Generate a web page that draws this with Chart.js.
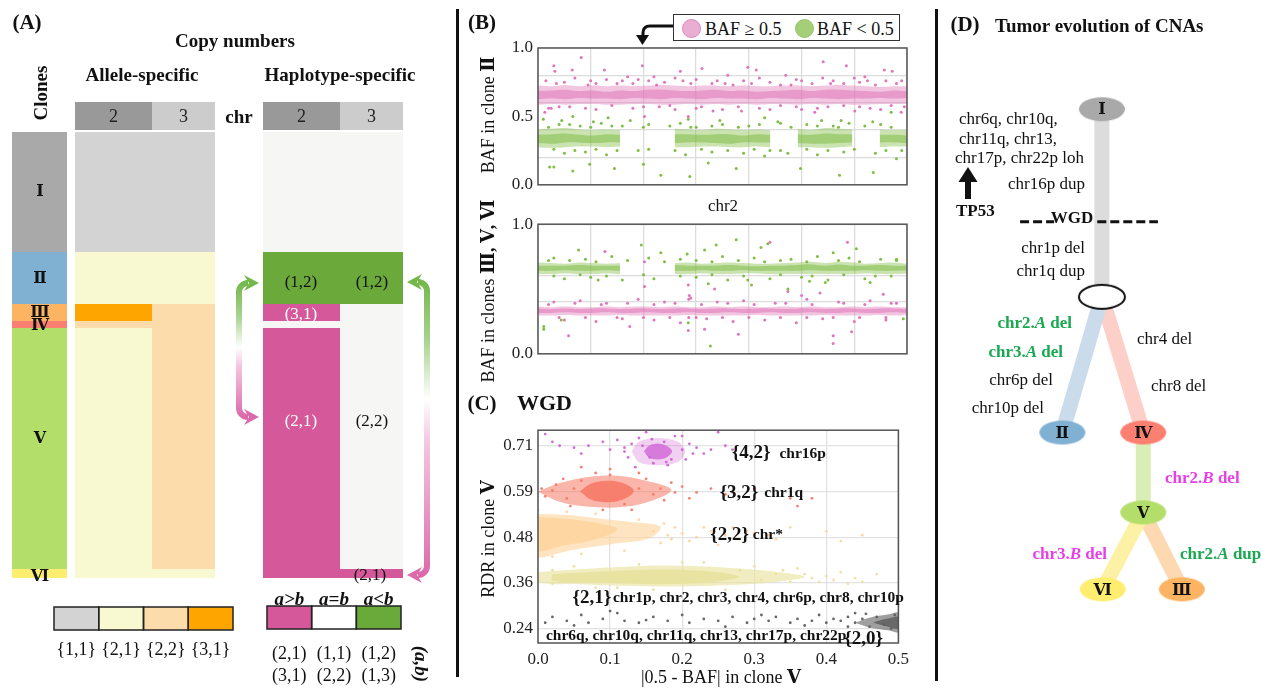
<!DOCTYPE html>
<html><head><meta charset="utf-8"><title>Tumor CNA figure</title>
<script src="https://cdn.jsdelivr.net/npm/chart.js@4.4.1/dist/chart.umd.min.js"></script>
<style>
html,body{margin:0;padding:0;background:#fff}
#fig{position:relative;width:1261px;height:688px;overflow:hidden;font-family:'Liberation Serif','DejaVu Serif',serif;color:#111}
#fig canvas{position:absolute}
.t{position:absolute;white-space:nowrap;line-height:1}
.sep{position:absolute;background:#111;width:3px}
.lc{position:absolute;top:4px;width:17px;height:17px;border-radius:50%}
</style></head><body><div id="fig">
<div class="sep" style="left:456px;top:9px;height:668px"></div>
<div class="sep" style="left:935px;top:9px;height:672px"></div>
<canvas id="cA" width="455" height="688" style="left:0;top:0"></canvas>
<canvas id="cB1" width="460" height="200" style="left:455px;top:0"></canvas>
<canvas id="cB2" width="460" height="160" style="left:455px;top:209px"></canvas>
<canvas id="cC" width="460" height="260" style="left:455px;top:415px"></canvas>
<canvas id="cD" width="321" height="688" style="left:940px;top:0"></canvas>
<div id="legB" style="position:absolute;left:673px;top:14px;width:225px;height:25px;border:1.5px solid #333;background:#fff">
 <div class="lc" style="left:8px;background:rgba(222,120,182,0.6);border:1px solid #dc86b8"></div>
 <div class="t" style="left:31px;top:5px;font-size:18px">BAF ≥ 0.5</div>
 <div class="lc" style="left:121px;background:#a4cf78;border:1px solid #93c463"></div>
 <div class="t" style="left:143px;top:5px;font-size:18px">BAF &lt; 0.5</div>
</div>
</div>
<script>
// ======================= DATA =======================
// Panel A : clones, cells and copy-number states
const cloneNames = ['Ⅰ','Ⅱ','Ⅲ','Ⅳ','Ⅴ','Ⅵ'];
const cloneCellCounts = [120, 52, 17, 7, 241, 9];
const chromosomes = ['2', '3'];
const chromosomeLengthsMb = [242, 198];
const alleleSpecificCN = [['{1,1}','{1,1}'],['{2,1}','{2,1}'],['{3,1}','{2,2}'],['{2,2}','{2,2}'],['{2,1}','{2,2}'],['{2,1}','{2,1}']];
const haplotypeSpecificCN = [['(1,1)','(1,1)'],['(1,2)','(1,2)'],['(3,1)','(2,2)'],['(2,2)','(2,2)'],['(2,1)','(2,2)'],['(2,1)','(2,1)']];
const alleleLegendStates = ['{1,1}','{2,1}','{2,2}','{3,1}'];
const haplotypeLegendClasses = ['a>b','a=b','a<b'];
const haplotypeLegendPairs1 = ['(2,1)','(1,1)','(1,2)'];
const haplotypeLegendPairs2 = ['(3,1)','(2,2)','(1,3)'];

// Panel B : BAF along chr2 (28 samples along 0..7), dense band range + core range + scattered points
const bafGenomeSpan = 7;
const bafGridValues = [0, 0.2, 0.4, 0.5, 0.6, 0.8, 1.0];
const bafTickLabels = ['0.0','','','0.5','','','1.0'];
const clone2HighLo = [.585,.59,.585,.59,.59,.585,.585,.59,.59,.585,.585,.59,.585,.59,.585,.59,.585,.59,.59,.585,.59,.585,.59,.585,.585,.59,.59,.59];
const clone2HighHi = [.725,.72,.73,.72,.725,.72,.725,.72,.725,.73,.725,.72,.725,.725,.72,.725,.72,.72,.725,.725,.72,.725,.73,.725,.72,.715,.72,.72];
const clone2HighCoreLo = [.625,.63,.625,.635,.63,.63,.625,.635,.63,.625,.635,.63,.625,.635,.63,.63,.625,.635,.63,.625,.635,.63,.625,.63,.63,.635,.63,.635];
const clone2HighCoreHi = [.685,.69,.695,.685,.69,.68,.69,.685,.695,.695,.69,.685,.69,.695,.685,.69,.68,.685,.69,.695,.685,.695,.695,.69,.685,.68,.69,.685];
const clone2LowLo = [.275,.27,.275,.28,.28,.275,.28,null,.28,null,.275,.275,.28,.28,.275,.275,.28,.275,null,.275,.275,.27,.275,.28,null,.275,.28,.28];
const clone2LowHi = [.405,.41,.415,.405,.40,.405,.40,null,.40,null,.41,.405,.40,.41,.405,.40,.405,.40,null,.41,.40,.415,.41,.405,null,.405,.40,.40];
const clone2LowCoreLo = [.305,.30,.31,.31,.305,.31,.31,null,.31,null,.305,.31,.31,.305,.30,.31,.31,.31,null,.305,.30,.30,.305,.31,null,.31,.31,.305];
const clone2LowCoreHi = [.365,.37,.375,.365,.36,.37,.365,null,.36,null,.37,.37,.365,.37,.37,.36,.37,.365,null,.37,.365,.375,.37,.37,null,.365,.365,.36];
const clone2HighDots = [[0.3,0.87],[0.32,0.83],[0.82,0.93],[0.65,0.84],[1.26,0.84],[1.98,0.87],[2.2,0.79],[2.7,0.83],[3.11,0.85],[3.98,0.86],[4.14,0.84],[5.41,0.9],[5.85,0.87],[6.57,0.84],[6.72,0.83],[0.13,0.53],[0.25,0.56],[2.02,0.5],[2.85,0.5],[3.32,0.54],[3.86,0.54],[5.25,0.53],[6.01,0.54],[6.89,0.53],[0.5,0.75],[1.0,0.76],[1.5,0.74],[1.9,0.77],[2.4,0.75],[2.9,0.74],[3.4,0.76],[3.7,0.73],[4.4,0.75],[4.9,0.77],[5.2,0.74],[5.6,0.76],[6.1,0.75],[6.4,0.73],[6.9,0.76],[0.4,0.57],[0.9,0.56],[1.4,0.58],[2.3,0.57],[2.6,0.55],[3.1,0.57],[4.2,0.56],[4.6,0.58],[5.0,0.55],[5.5,0.57],[6.3,0.56],[6.7,0.58],[1.7,0.79],[3.6,0.8],[4.7,0.8],[6.2,0.79],[0.15,0.76],[0.7,0.78],[1.1,0.74],[1.3,0.77],[1.8,0.74],[2.1,0.76],[2.6,0.78],[3.0,0.77],[3.3,0.74],[3.9,0.76],[4.2,0.78],[4.6,0.73],[5.0,0.76],[5.4,0.78],[5.8,0.74],[6.0,0.78],[6.6,0.76],[0.2,0.56],[0.6,0.57],[1.1,0.55],[1.8,0.56],[2.0,0.57],[2.5,0.58],[3.0,0.56],[3.5,0.55],[3.8,0.57],[4.4,0.55],[4.9,0.57],[5.3,0.56],[5.8,0.58],[6.1,0.57],[6.5,0.55],[6.95,0.57],[0.35,0.74],[0.95,0.73],[1.6,0.76],[2.25,0.73],[2.75,0.76],[3.55,0.74],[4.05,0.74],[4.8,0.73],[5.55,0.74],[6.25,0.76],[6.8,0.74]];
const clone2LowDots = [[0.1,0.48],[0.66,0.5],[1.33,0.49],[2.85,0.48],[4.3,0.49],[5.38,0.47],[6.7,0.53],[0.22,0.13],[0.3,0.13],[0.66,0.1],[0.98,0.15],[1.45,0.12],[2.0,0.15],[2.33,0.07],[2.88,0.06],[3.23,0.16],[3.76,0.12],[4.98,0.12],[5.72,0.07],[6.36,0.09],[6.8,0.19],[4.3,0.21],[4.74,0.23],[0.4,0.44],[0.8,0.43],[1.2,0.45],[1.6,0.43],[2.1,0.44],[2.7,0.45],[3.0,0.42],[3.5,0.44],[4.0,0.43],[4.6,0.45],[5.1,0.44],[5.6,0.43],[5.9,0.45],[6.5,0.44],[0.5,0.23],[0.9,0.24],[1.3,0.22],[1.9,0.25],[2.8,0.22],[3.3,0.24],[3.9,0.23],[4.4,0.25],[5.3,0.22],[5.8,0.24],[6.4,0.23],[6.9,0.25],[0.2,0.42],[0.6,0.44],[1.0,0.42],[1.4,0.43],[2.0,0.42],[2.5,0.43],[2.9,0.42],[3.3,0.43],[3.8,0.42],[4.2,0.44],[4.8,0.42],[5.3,0.43],[5.7,0.42],[6.2,0.43],[6.7,0.42],[0.3,0.26],[0.7,0.25],[1.1,0.26],[1.5,0.25],[2.1,0.26],[2.6,0.25],[3.1,0.26],[3.6,0.25],[4.1,0.26],[4.6,0.25],[5.1,0.26],[5.5,0.25],[6.0,0.26],[6.6,0.25],[0.45,0.47],[1.05,0.46],[1.75,0.47],[3.45,0.47],[4.55,0.46],[5.75,0.47],[6.35,0.46]];
const clones356HighLo = [.615,.615,.62,.615,.615,.62,.615,null,.615,null,.615,.615,.62,.615,.615,.62,.62,.615,.615,.615,.615,.615,.615,.615,.62,.615,.615,.62];
const clones356HighHi = [.705,.70,.695,.705,.70,.695,.70,null,.705,null,.70,.705,.695,.70,.705,.70,.695,.695,.70,.705,.71,.70,.71,.705,.695,.70,.705,.695];
const clones356HighCoreLo = [.64,.64,.645,.64,.64,.645,.64,null,.64,null,.64,.64,.645,.64,.64,.645,.64,.64,.64,.64,.645,.64,.64,.64,.645,.64,.64,.645];
const clones356HighCoreHi = [.68,.68,.68,.685,.68,.68,.68,null,.68,null,.685,.68,.68,.68,.685,.68,.675,.68,.68,.685,.69,.68,.69,.68,.68,.685,.68,.68];
const clones356LowLo = [.295,.295,.30,.295,.295,.295,.30,.295,.295,.295,.295,.30,.295,.295,.295,.295,.30,.295,.295,.295,.295,.30,.295,.295,.295,.30,.295,.30];
const clones356LowHi = [.365,.36,.365,.36,.36,.365,.36,.365,.365,.36,.365,.36,.36,.365,.36,.365,.36,.36,.365,.36,.365,.36,.36,.365,.36,.365,.36,.36];
const clones356LowCoreLo = [.315,.315,.32,.315,.315,.32,.315,.315,.32,.315,.315,.32,.315,.315,.32,.315,.315,.32,.315,.315,.32,.315,.315,.32,.315,.315,.32,.315];
const clones356LowCoreHi = [.35,.345,.35,.345,.35,.35,.345,.35,.35,.345,.35,.35,.345,.35,.35,.345,.35,.35,.345,.35,.35,.345,.35,.35,.345,.35,.35,.345];
const clones356HighDots = [[0.77,0.8],[1.96,0.84],[2.33,0.78],[2.83,0.77],[3.16,0.8],[3.38,0.84],[3.76,0.88],[4.23,0.82],[4.36,0.85],[6.04,0.81],[5.6,0.78],[6.8,0.73],[0.11,0.21],[0.11,0.19],[3.27,0.06],[2.85,0.24],[0.44,0.26],[3.98,0.57],[4.74,0.5],[6.93,0.27],[1.14,0.57],[3.23,0.54],[0.3,0.74],[0.9,0.73],[1.4,0.75],[2.1,0.74],[2.7,0.73],[3.5,0.75],[4.1,0.74],[4.8,0.73],[5.3,0.75],[5.9,0.74],[6.5,0.73],[0.5,0.58],[1.0,0.59],[1.6,0.57],[2.2,0.58],[3.0,0.59],[3.6,0.57],[4.4,0.58],[5.0,0.59],[5.5,0.57],[6.2,0.58],[6.7,0.6],[0.2,0.72],[0.6,0.72],[1.1,0.71],[1.7,0.72],[2.4,0.71],[3.0,0.72],[3.3,0.71],[3.8,0.72],[4.3,0.71],[4.6,0.72],[5.1,0.71],[5.7,0.72],[6.1,0.71],[6.8,0.72],[0.3,0.6],[0.8,0.61],[1.3,0.6],[2.0,0.61],[2.7,0.6],[3.3,0.61],[3.9,0.6],[4.6,0.61],[5.2,0.6],[5.8,0.61],[6.4,0.6],[5.15,0.56],[5.45,0.55],[6.3,0.55],[4.05,0.53]];
const clones356LowDots = [[2.02,0.71],[4.4,0.86],[5.87,0.86],[1.27,0.79],[2.02,0.52],[3.35,0.5],[4.74,0.48],[2.85,0.53],[0.58,0.14],[3.8,0.15],[5.6,0.14],[5.6,0.08],[5.95,0.17],[2.85,0.18],[3.16,0.19],[1.74,0.21],[2.86,0.28],[2.86,0.42],[2.87,0.45],[0.3,0.4],[0.8,0.41],[1.3,0.39],[1.9,0.42],[2.4,0.4],[2.9,0.43],[3.4,0.4],[3.9,0.41],[4.5,0.39],[5.1,0.42],[5.7,0.4],[6.3,0.41],[6.8,0.39],[0.5,0.26],[1.1,0.25],[1.6,0.27],[2.2,0.26],[2.7,0.24],[3.2,0.27],[3.7,0.25],[4.3,0.26],[4.9,0.24],[5.4,0.27],[6.0,0.25],[6.6,0.26],[0.2,0.38],[0.7,0.39],[1.2,0.38],[1.7,0.39],[2.2,0.38],[2.6,0.39],[3.1,0.38],[3.6,0.39],[4.1,0.38],[4.7,0.39],[5.2,0.38],[5.8,0.39],[6.2,0.38],[6.7,0.39],[0.4,0.28],[0.9,0.28],[1.5,0.28],[2.0,0.28],[2.5,0.28],[3.0,0.28],[3.5,0.28],[4.0,0.28],[4.6,0.28],[5.1,0.28],[5.6,0.28],[6.1,0.28],[6.6,0.28],[5.0,0.45],[5.35,0.47],[6.55,0.46]];

// Panel C : RDR vs |0.5-BAF| clusters in clone V
const rdrTickValues = [0.24, 0.3575, 0.475, 0.5925, 0.71];
const rdrTickLabels = ['0.24','0.36','0.48','0.59','0.71'];
const clusterStates = ['{4,2}','{3,2}','{2,2}','{2,1}','{2,0}'];
const clusterChromosomes = ['chr16p','chr1q','chr*','chr1p, chr2, chr3, chr4, chr6p, chr8, chr10p','chr6q, chr10q, chr11q, chr13, chr17p, chr22p'];
const clusterOutlines = [
 [[0.13,0.695],[0.14,0.72],[0.166,0.73],[0.194,0.72],[0.204,0.695],[0.194,0.668],[0.166,0.66],[0.14,0.668],[0.13,0.695]],
 [[0.0,0.592],[0.03,0.614],[0.07,0.63],[0.11,0.633],[0.15,0.62],[0.185,0.597],[0.16,0.57],[0.12,0.553],[0.07,0.553],[0.03,0.566],[0.0,0.592]],
 [[-0.01,0.535],[0.04,0.532],[0.09,0.522],[0.13,0.514],[0.17,0.502],[0.155,0.472],[0.1,0.457],[0.05,0.443],[-0.01,0.428],[-0.01,0.535]],
 [[0.0,0.385],[0.06,0.393],[0.12,0.399],[0.18,0.402],[0.25,0.398],[0.32,0.388],[0.37,0.373],[0.32,0.358],[0.25,0.351],[0.18,0.348],[0.12,0.35],[0.06,0.354],[0.0,0.36],[0.0,0.385]],
 [[0.44,0.255],[0.46,0.268],[0.485,0.276],[0.505,0.28],[0.505,0.232],[0.485,0.236],[0.46,0.243],[0.44,0.255]]
];
const clusterCores = [
 [[0.147,0.696],[0.154,0.71],[0.166,0.716],[0.178,0.71],[0.186,0.696],[0.178,0.68],[0.166,0.675],[0.154,0.68],[0.147,0.696]],
 [[0.058,0.593],[0.074,0.613],[0.096,0.62],[0.118,0.614],[0.133,0.594],[0.118,0.572],[0.096,0.565],[0.074,0.571],[0.058,0.593]],
 [[-0.01,0.527],[0.04,0.522],[0.08,0.512],[0.11,0.496],[0.085,0.472],[0.04,0.455],[-0.01,0.442],[-0.01,0.527]],
 [[0.02,0.38],[0.1,0.388],[0.17,0.392],[0.24,0.387],[0.28,0.373],[0.24,0.359],[0.17,0.354],[0.1,0.357],[0.02,0.363],[0.02,0.38]],
 [[0.465,0.256],[0.485,0.266],[0.505,0.27],[0.505,0.24],[0.485,0.245],[0.465,0.256]]
];
const clusterDots = [
 [[0.01,0.74],[0.03,0.71],[0.05,0.705],[0.07,0.71],[0.09,0.72],[0.1,0.7],[0.12,0.705],[0.13,0.715],[0.14,0.73],[0.15,0.745],[0.155,0.68],[0.16,0.665],[0.18,0.66],[0.19,0.735],[0.2,0.7],[0.21,0.715],[0.22,0.705],[0.23,0.69],[0.24,0.7],[0.25,0.745],[0.26,0.71],[0.145,0.71],[0.175,0.72],[0.185,0.675],[0.02,0.72],[0.27,0.7],[0.06,0.69],[0.11,0.725],[0.125,0.68],[0.205,0.675],[0.135,0.655],[0.2,0.735],[0.12,0.695],[0.215,0.69],[0.158,0.727],[0.178,0.668]],
 [[0.005,0.6],[0.01,0.58],[0.02,0.595],[0.025,0.61],[0.04,0.575],[0.05,0.6],[0.06,0.62],[0.08,0.64],[0.1,0.635],[0.12,0.56],[0.14,0.6],[0.15,0.625],[0.16,0.585],[0.17,0.6],[0.19,0.59],[0.2,0.605],[0.22,0.59],[0.24,0.6],[0.26,0.585],[0.27,0.59],[0.3,0.6],[0.35,0.575],[0.38,0.575],[0.06,0.655],[0.09,0.545],[0.13,0.545],[0.36,0.555],[0.035,0.625],[0.185,0.615],[0.175,0.57],[0.045,0.555],[0.1,0.65],[0.14,0.64],[0.21,0.575]],
 [[0.16,0.49],[0.18,0.48],[0.2,0.485],[0.22,0.475],[0.24,0.49],[0.26,0.48],[0.28,0.47],[0.3,0.485],[0.32,0.48],[0.35,0.5],[0.4,0.49],[0.42,0.465],[0.45,0.48],[0.02,0.425],[0.04,0.54],[0.08,0.535],[0.12,0.44],[0.14,0.52],[0.19,0.5],[0.21,0.465],[0.25,0.455],[0.27,0.5],[0.0,0.545],[0.06,0.432],[0.23,0.5],[0.17,0.46],[0.29,0.49],[0.33,0.47],[0.175,0.51],[0.185,0.47]],
 [[0.0,0.37],[0.02,0.39],[0.05,0.4],[0.08,0.345],[0.14,0.405],[0.2,0.41],[0.26,0.34],[0.3,0.4],[0.33,0.38],[0.35,0.36],[0.37,0.38],[0.38,0.37],[0.4,0.375],[0.42,0.385],[0.44,0.37],[0.45,0.36],[0.47,0.38],[0.23,0.41],[0.16,0.34],[0.11,0.345],[0.28,0.39],[0.31,0.365],[0.34,0.39],[0.39,0.36],[0.43,0.355],[0.02,0.355],[0.36,0.395],[0.41,0.365]],
 [[0.01,0.255],[0.02,0.27],[0.04,0.26],[0.06,0.275],[0.07,0.255],[0.09,0.265],[0.11,0.28],[0.12,0.26],[0.14,0.255],[0.16,0.27],[0.18,0.26],[0.2,0.275],[0.21,0.255],[0.23,0.265],[0.25,0.26],[0.27,0.27],[0.29,0.255],[0.3,0.265],[0.32,0.26],[0.33,0.27],[0.35,0.255],[0.36,0.265],[0.38,0.26],[0.39,0.275],[0.4,0.255],[0.41,0.265],[0.42,0.26],[0.43,0.27],[0.44,0.255],[0.45,0.265],[0.46,0.245],[0.47,0.27],[0.48,0.25],[0.49,0.24],[0.5,0.26],[0.495,0.275],[0.1,0.285],[0.26,0.245],[0.37,0.248],[0.44,0.28],[0.43,0.245],[0.455,0.278],[0.05,0.248],[0.15,0.262],[0.31,0.275]]
];

// Panel D : tree of clones
const treeNodes = ['Ⅰ','WGD','Ⅱ','Ⅳ','Ⅴ','Ⅵ','Ⅲ'];
const treeEdges = [['Ⅰ','WGD'],['WGD','Ⅱ'],['WGD','Ⅳ'],['Ⅳ','Ⅴ'],['Ⅴ','Ⅵ'],['Ⅴ','Ⅲ']];

// ======================= STYLE / LAYOUT =======================
Chart.defaults.font.family = "'Liberation Serif','DejaVu Serif',serif";
Chart.defaults.font.size = 17;
Chart.defaults.color = '#222';
Chart.defaults.animation = false;
Chart.defaults.responsive = false;
Chart.defaults.events = [];
Chart.defaults.plugins.legend.display = false;
Chart.defaults.plugins.tooltip.enabled = false;

const SA = { cloneX:[12,67], alleleX0:75, haploX0:263, pxPerMb:77/242, rowY0:132, headerY:[102,130],
  cloneColors:['#a9a9a9','#80b1d3','#fdb462','#fb8072','#b3de69','#ffed6f'],
  alleleColors:{'{1,1}':'#d3d3d3','{2,1}':'#f8f8d1','{2,2}':'#fddcab','{3,1}':'#ffa500'},
  haploColors:{'a>b':'#d5589b','a=b':'#f6f6f4','a<b':'#6ba93b'},
  haploLegendColors:{'a>b':'#d5589b','a=b':'#ffffff','a<b':'#6aaa3a'},
  headerColors:['#999999','#cccccc'],
  alleleLegend:{x0:54,x1:233,y0:607,y1:630}, haploLegend:{x0:267,x1:401,y0:606,y1:629} };
function haploClass(s){ const [a,b]=s.slice(1,-1).split(',').map(Number); return a>b?'a>b':(a===b?'a=b':'a<b'); }

const fig = document.getElementById('fig');
function txt(html,x,y,o={}){ const d=document.createElement('div'); d.className='t'; d.innerHTML=html;
  const a=o.a||'c'; const tx=a==='l'?'0':(a==='r'?'-100%':'-50%');
  d.style.left=x+'px'; d.style.top=y+'px'; d.style.fontSize=(o.s||17)+'px';
  if(o.b) d.style.fontWeight='bold'; if(o.i) d.style.fontStyle='italic'; if(o.c) d.style.color=o.c;
  d.style.transform='translate('+tx+',-50%)'+(o.r?' rotate('+o.r+'deg)':''); fig.appendChild(d); }

// ======================= PANEL A =======================
const cum=[0]; cloneCellCounts.forEach(c=>cum.push(cum[cum.length-1]+c));
const rowY = cum.map(c=>SA.rowY0+c);
const chrOff=[0]; chromosomeLengthsMb.forEach(l=>chrOff.push(chrOff[chrOff.length-1]+l*SA.pxPerMb));
const aSets=[];
function rect(x0,x1,y0,y1,color){ aSets.push({type:'line',data:[{x:x0,y:y0},{x:x1,y:y0}],fill:{value:y1},backgroundColor:color,borderColor:'rgba(0,0,0,0)',borderWidth:0,pointRadius:0,tension:0}); }
chromosomes.forEach((c,j)=>{ [SA.alleleX0,SA.haploX0].forEach(x0=>rect(x0+chrOff[j],x0+chrOff[j+1],SA.headerY[0],SA.headerY[1],SA.headerColors[j])); });
cloneNames.forEach((n,r)=>{
  rect(SA.cloneX[0],SA.cloneX[1],rowY[r],rowY[r+1],SA.cloneColors[r]);
  chromosomes.forEach((c,j)=>{
    rect(SA.alleleX0+chrOff[j],SA.alleleX0+chrOff[j+1],rowY[r],rowY[r+1],SA.alleleColors[alleleSpecificCN[r][j]]);
    rect(SA.haploX0+chrOff[j],SA.haploX0+chrOff[j+1],rowY[r],rowY[r+1],SA.haploColors[haploClass(haplotypeSpecificCN[r][j])]);
  });
});
const L1=SA.alleleLegend, w1=(L1.x1-L1.x0)/alleleLegendStates.length;
alleleLegendStates.forEach((s,i)=>rect(L1.x0+i*w1,L1.x0+(i+1)*w1,L1.y0,L1.y1,SA.alleleColors[s]));
const L2=SA.haploLegend, w2=(L2.x1-L2.x0)/haplotypeLegendClasses.length;
haplotypeLegendClasses.forEach((s,i)=>rect(L2.x0+i*w2,L2.x0+(i+1)*w2,L2.y0,L2.y1,SA.haploLegendColors[s]));

function drawBentArrow(ctx,sx,yTop,yBot,tipX,stops){
  const dir=tipX>sx?1:-1, r=9, head=13, hw=8;
  const g=ctx.createLinearGradient(0,yTop,0,yBot); stops.forEach(s=>g.addColorStop(s[0],s[1]));
  ctx.strokeStyle=g; ctx.lineWidth=6; ctx.lineCap='butt';
  ctx.beginPath(); ctx.moveTo(tipX-dir*head,yTop); ctx.lineTo(sx+dir*r,yTop); ctx.arcTo(sx,yTop,sx,yTop+r,r);
  ctx.lineTo(sx,yBot-r); ctx.arcTo(sx,yBot,sx+dir*r,yBot,r); ctx.lineTo(tipX-dir*head,yBot); ctx.stroke();
  [[yTop,stops[0][1]],[yBot,stops[stops.length-1][1]]].forEach(([y,c])=>{ ctx.fillStyle=c; ctx.beginPath();
    ctx.moveTo(tipX,y); ctx.lineTo(tipX-dir*(head+2),y-hw); ctx.lineTo(tipX-dir*(head-3),y); ctx.lineTo(tipX-dir*(head+2),y+hw); ctx.closePath(); ctx.fill(); });
}
const aDecor={id:'aDecor',afterDatasetsDraw(chart){
  const ctx=chart.ctx, X=v=>chart.scales.x.getPixelForValue(v), Y=v=>chart.scales.y.getPixelForValue(v);
  ctx.save(); ctx.strokeStyle='#222'; ctx.lineWidth=1.5;
  alleleLegendStates.forEach((s,i)=>ctx.strokeRect(X(L1.x0+i*w1),Y(L1.y0),X(L1.x0+(i+1)*w1)-X(L1.x0+i*w1),Y(L1.y1)-Y(L1.y0)));
  haplotypeLegendClasses.forEach((s,i)=>ctx.strokeRect(X(L2.x0+i*w2),Y(L2.y0),X(L2.x0+(i+1)*w2)-X(L2.x0+i*w2),Y(L2.y1)-Y(L2.y0)));
  drawBentArrow(ctx,X(239),Y(283),Y(417),X(259),[[0,'#74b84c'],[0.25,'#a9d38f'],[0.48,'#ffffff'],[0.62,'#f3c6df'],[1,'#dc6aab']]);
  drawBentArrow(ctx,X(427),Y(282),Y(575),X(407),[[0,'#74b84c'],[0.2,'#a9d38f'],[0.4,'#ffffff'],[0.55,'#f3c6df'],[1,'#dc6aab']]);
  ctx.restore(); }};
new Chart(document.getElementById('cA'),{type:'line',data:{datasets:aSets},options:{layout:{padding:0},
  scales:{x:{type:'linear',min:0,max:455,display:false},y:{type:'linear',min:0,max:688,reverse:true,display:false}}},plugins:[aDecor]});

// ======================= PANEL B =======================
const framePlugin={id:'frame',afterDatasetsDraw(chart){const {ctx,chartArea:a}=chart; ctx.save(); ctx.strokeStyle='#555'; ctx.lineWidth=1.5; ctx.strokeRect(a.left,a.top,a.right-a.left,a.bottom-a.top); ctx.restore();}};
const PINK='224,118,184', GREEN='128,189,69';
function bandPos(i,n){ return i*bafGenomeSpan/(n-1); }
function band(lo,hi,rgb,alpha){
  const base={type:'line',borderWidth:0,borderColor:'rgba(0,0,0,0)',pointRadius:0,tension:0.35,spanGaps:false,order:5};
  return [Object.assign({},base,{data:lo.map((v,i)=>({x:bandPos(i,lo.length),y:v})),fill:false}),
          Object.assign({},base,{data:hi.map((v,i)=>({x:bandPos(i,hi.length),y:v})),fill:'-1',backgroundColor:'rgba('+rgb+','+alpha+')'})];
}
function dots(pts,color,r){ return {type:'scatter',data:pts.map(p=>({x:p[0],y:p[1]})),backgroundColor:color,borderWidth:0,pointRadius:r||1.5,order:1}; }
function bafChart(id,sets,padTop,extra){
  return new Chart(document.getElementById(id),{type:'scatter',data:{datasets:sets},options:{
    layout:{padding:{top:padTop,right:8,bottom:10,left:0}},
    plugins:{filler:{propagate:false}},
    scales:{
      x:{type:'linear',min:0,max:7,ticks:{display:false,stepSize:1},grid:{color:'#dcdcdc',lineWidth:1.3,drawTicks:false},border:{display:false},afterFit:s=>{s.height=0;}},
      y:{type:'linear',min:0,max:1,afterBuildTicks:s=>{s.ticks=bafGridValues.map(v=>({value:v}));},
         ticks:{padding:5,font:{size:17},callback:(v)=>bafTickLabels[bafGridValues.indexOf(v)]},
         grid:{drawTicks:false,lineWidth:1.3,color:c=>(c.tick&&c.tick.value===0.5)?'rgba(0,0,0,0)':'#dcdcdc'},border:{display:false},afterFit:s=>{s.width=83;}}
    }},plugins:[framePlugin].concat(extra||[])});
}
const bArrow={id:'bArrow',afterDraw(chart){const ctx=chart.ctx; ctx.save(); ctx.strokeStyle='#111'; ctx.lineWidth=3;
  ctx.beginPath(); ctx.moveTo(218,26); ctx.lineTo(195,26); ctx.quadraticCurveTo(188,26,188,33); ctx.lineTo(188,37); ctx.stroke();
  ctx.fillStyle='#111'; ctx.beginPath(); ctx.moveTo(187.5,45); ctx.lineTo(181,35); ctx.lineTo(194,35); ctx.closePath(); ctx.fill(); ctx.restore();}};
bafChart('cB1',[].concat(
  band(clone2HighLo,clone2HighHi,PINK,0.42), band(clone2HighCoreLo,clone2HighCoreHi,PINK,0.55),
  band(clone2LowLo,clone2LowHi,GREEN,0.42), band(clone2LowCoreLo,clone2LowCoreHi,GREEN,0.55),
  [dots(clone2HighDots,'rgb('+PINK+')'), dots(clone2LowDots,'rgb('+GREEN+')')]),48,[bArrow]);
bafChart('cB2',[].concat(
  band(clones356HighLo,clones356HighHi,GREEN,0.42), band(clones356HighCoreLo,clones356HighCoreHi,GREEN,0.55),
  band(clones356LowLo,clones356LowHi,PINK,0.42), band(clones356LowCoreLo,clones356LowCoreHi,PINK,0.55),
  [dots(clones356HighDots,'rgb('+GREEN+')'), dots(clones356LowDots,'rgb('+PINK+')')]),8);

// ======================= PANEL C =======================
const clusterRGB=['208,100,212','247,122,103','253,214,160','233,227,160','95,95,95'];
const clusterAlpha=[[0.3,0.8],[0.55,0.9],[0.65,0.95],[0.65,0.95],[0.6,0.85]];
const cLabelLayout=[{sx:0.269,y:0.69,cx:0.335},{sx:0.252,y:0.589,cx:0.314},{sx:0.239,y:0.481,cx:0.298},{sx:0.048,y:0.318,cx:0.104},{sx:0.425,y:0.214,cx:0.011,cy:0.222}];
const cSets=[];
clusterStates.forEach((s,i)=>{
  cSets.push({type:'line',data:clusterOutlines[i].map(p=>({x:p[0],y:p[1]})),fill:'shape',backgroundColor:'rgba('+clusterRGB[i]+','+clusterAlpha[i][0]+')',borderColor:'rgba(0,0,0,0)',borderWidth:0,pointRadius:0,tension:0.35,order:6});
  cSets.push({type:'line',data:clusterCores[i].map(p=>({x:p[0],y:p[1]})),fill:'shape',backgroundColor:'rgba('+clusterRGB[i]+','+clusterAlpha[i][1]+')',borderColor:'rgba(0,0,0,0)',borderWidth:0,pointRadius:0,tension:0.35,order:5});
  cSets.push(dots(clusterDots[i],'rgba('+clusterRGB[i]+',0.95)',1.4));
});
const cLabels={id:'cLabels',afterDatasetsDraw(chart){const {ctx,scales:{x,y}}=chart; ctx.save(); ctx.fillStyle='#111'; ctx.textBaseline='middle'; ctx.textAlign='left';
  clusterStates.forEach((s,i)=>{const L=cLabelLayout[i];
    ctx.font="bold 19px 'Liberation Serif'"; ctx.fillText(s,x.getPixelForValue(L.sx),y.getPixelForValue(L.y));
    ctx.font="bold 15.5px 'Liberation Serif'"; ctx.fillText(clusterChromosomes[i],x.getPixelForValue(L.cx),y.getPixelForValue(L.cy!=null?L.cy:L.y));});
  ctx.restore();}};
new Chart(document.getElementById('cC'),{type:'scatter',data:{datasets:cSets},options:{
  layout:{padding:{top:7,right:8,bottom:0,left:0}},
  scales:{
    x:{type:'linear',min:0,max:0.5,ticks:{stepSize:0.1,padding:6,font:{size:17},callback:v=>v.toFixed(1)},grid:{color:'#e2e2e2',lineWidth:1.3,drawTicks:false},border:{display:false},afterFit:s=>{s.height=32;}},
    y:{type:'linear',min:0.203,max:0.75,afterBuildTicks:s=>{s.ticks=rdrTickValues.map(v=>({value:v}));},ticks:{padding:5,font:{size:17},callback:(v,i)=>rdrTickLabels[i]},grid:{color:'#e2e2e2',lineWidth:1.3,drawTicks:false},border:{display:false},afterFit:s=>{s.width=83;}}
  }},plugins:[framePlugin,cLabels]});

// ======================= PANEL D =======================
const SD={pos:{'Ⅰ':[162,100],'WGD':[162,295],'Ⅱ':[119,436],'Ⅳ':[207,436],'Ⅴ':[207,519],'Ⅵ':[163,599],'Ⅲ':[249,599]},
  nodeFill:{'Ⅰ':'#a9a9a9','WGD':'#ffffff','Ⅱ':'#80b1d3','Ⅳ':'#fb8072','Ⅴ':'#b3de69','Ⅵ':'#ffed6f','Ⅲ':'#fdb462'},
  edgeColors:['#dcdcdc','#cadcec','#fccfc8','#d9edb6','#fdf1a6','#fdd9b2']};
function ellipseImg(fill,stroke){const c=document.createElement('canvas'); c.width=50; c.height=28; const g=c.getContext('2d');
  g.beginPath(); g.ellipse(25,14,23,12,0,0,Math.PI*2); g.fillStyle=fill; g.fill(); if(stroke){g.lineWidth=2; g.strokeStyle=stroke; g.stroke();} return c;}
const dSets=[];
dSets.push({type:'scatter',data:treeNodes.map(n=>({x:SD.pos[n][0],y:SD.pos[n][1]})),pointStyle:treeNodes.map(n=>ellipseImg(SD.nodeFill[n],n==='WGD'?'#111':null)),pointRadius:12,order:0});
treeEdges.forEach((e,i)=>dSets.push({type:'line',data:e.map(n=>({x:SD.pos[n][0],y:SD.pos[n][1]})),borderColor:SD.edgeColors[i],borderWidth:15,borderCapStyle:'butt',pointRadius:0,order:10}));
dSets.push({type:'line',data:[{x:73,y:217},{x:110,y:217}],borderColor:'#111',borderWidth:3,borderDash:[9,4],pointRadius:0,order:1});
dSets.push({type:'line',data:[{x:157,y:217},{x:223,y:217}],borderColor:'#111',borderWidth:3,borderDash:[9,4],pointRadius:0,order:1});
const dDecor={id:'dDecor',afterDatasetsDraw(chart){const {ctx,scales:{x,y}}=chart; ctx.save();
  ctx.fillStyle='#111'; ctx.textAlign='center'; ctx.textBaseline='middle'; ctx.font="bold 16px 'Liberation Serif','DejaVu Serif'";
  treeNodes.forEach(n=>{ if(n!=='WGD') ctx.fillText(n,x.getPixelForValue(SD.pos[n][0]),y.getPixelForValue(SD.pos[n][1])+1); });
  ctx.fillRect(25,180,6,19); ctx.beginPath(); ctx.moveTo(28,167); ctx.lineTo(18.5,182); ctx.lineTo(37.5,182); ctx.closePath(); ctx.fill();
  ctx.restore();}};
new Chart(document.getElementById('cD'),{type:'line',data:{datasets:dSets},options:{layout:{padding:0},
  scales:{x:{type:'linear',min:0,max:321,display:false},y:{type:'linear',min:0,max:688,reverse:true,display:false}}},plugins:[dDecor]});

// ======================= TEXT =======================
// Panel A
txt('(A)',27,22,{b:1,s:21}); txt('Copy numbers',235,40,{b:1,s:19});
txt('Clones',40,93,{b:1,s:19,r:-90});
txt('Allele-specific',142,74,{b:1,s:19}); txt('Haplotype-specific',340,74,{b:1,s:19});
chromosomes.forEach((c,j)=>{ txt(c,SA.alleleX0+(chrOff[j]+chrOff[j+1])/2,116,{s:18,c:'#222'}); txt(c,SA.haploX0+(chrOff[j]+chrOff[j+1])/2,116,{s:18,c:'#222'}); });
txt('chr',239,116,{b:1,s:19});
[191,278,312,325,438,576].forEach((y,r)=>txt(cloneNames[r],40,y,{b:1,s:16}));
txt(haplotypeSpecificCN[1][0],301,281,{s:17}); txt(haplotypeSpecificCN[1][1],372,281,{s:17});
txt(haplotypeSpecificCN[2][0],301,313,{s:17,c:'#fff'});
txt(haplotypeSpecificCN[4][0],301,420,{s:17,c:'#fff'}); txt(haplotypeSpecificCN[4][1],372,420,{s:17});
txt(haplotypeSpecificCN[5][1],370,574,{s:17});
alleleLegendStates.forEach((s,i)=>txt(s,L1.x0+(i+0.5)*w1,649,{s:18}));
haplotypeLegendClasses.forEach((s,i)=>{ txt(s.replace('>','&gt;').replace('<','&lt;'),L2.x0+(i+0.5)*w2,598,{b:1,i:1,s:19});
  txt(haplotypeLegendPairs1[i],L2.x0+(i+0.5)*w2,653,{s:18}); txt(haplotypeLegendPairs2[i],L2.x0+(i+0.5)*w2,675,{s:18}); });
txt('(a,b)',421,664,{b:1,i:1,s:19,r:90});
// Panel B
txt('(B)',482,22,{b:1,s:21});
txt('BAF in clone <b>Ⅱ</b>',488,115,{s:18,r:-90});
txt('chr2',723,205,{s:17});
txt('BAF in clones <b>Ⅲ, Ⅴ, Ⅵ</b>',488,291,{s:18,r:-90});
// Panel C
txt('(C)',482,403,{b:1,s:21}); txt('WGD',517,403,{b:1,s:22,a:'l'});
txt('RDR in clone <b>Ⅴ</b>',488,539,{s:18,r:-90});
txt('|0.5 - BAF| in clone <b>Ⅴ</b>',721,677,{s:18});
// Panel D
txt('(D)',965,24,{b:1,s:21}); txt('Tumor evolution of CNAs',995,25,{b:1,s:19,a:'l'});
txt('chr6q, chr10q,',959,118,{a:'l'}); txt('chr11q, chr13,',959,138,{a:'l'}); txt('chr17p, chr22p loh',955,157,{a:'l'});
txt('chr16p dup',1085,183,{a:'r'}); txt('TP53',956,210,{b:1,a:'l'});
txt('WGD',1072,217,{b:1,s:17});
txt('chr1p del',1085,247,{a:'r'}); txt('chr1q dup',1085,270,{a:'r'});
const GR='#1aa851', MG='#e640e6';
txt('chr2.<i>A</i> del',1072,322,{b:1,a:'r',c:GR}); txt('chr3.<i>A</i> del',1063,351,{b:1,a:'r',c:GR});
txt('chr6p del',1053,379,{a:'r'}); txt('chr10p del',1044,407,{a:'r'});
txt('chr4 del',1137,338,{a:'l'}); txt('chr8 del',1151,385,{a:'l'});
txt('chr2.<i>B</i> del',1165,477,{b:1,a:'l',c:MG});
txt('chr3.<i>B</i> del',1107,553,{b:1,a:'r',c:MG}); txt('chr2.<i>A</i> dup',1180,553,{b:1,a:'l',c:GR});
</script></body></html>
